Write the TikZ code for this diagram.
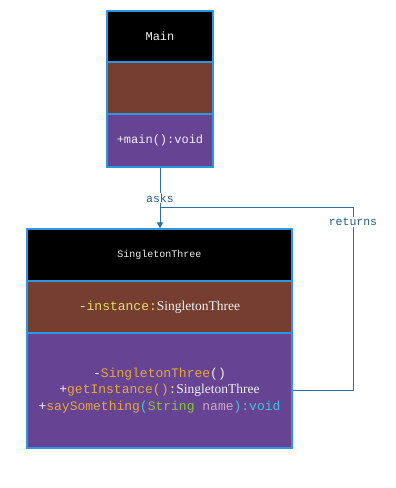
\documentclass[tikz,border=0pt]{standalone}
\usepackage{fontspec}
\setmonofont{Liberation Mono}
\newfontfamily\srf{Liberation Serif}
\usetikzlibrary{arrows.meta}

\definecolor{edge}{RGB}{45,150,225}
\definecolor{brownbox}{RGB}{118,62,48}
\definecolor{purplebox}{RGB}{103,67,148}
\definecolor{conn}{RGB}{46,110,165}
\definecolor{lbltext}{RGB}{30,90,140}
\definecolor{wtxt}{RGB}{240,240,240}
\definecolor{ytxt}{RGB}{232,222,100}
\definecolor{otxt}{RGB}{228,168,60}
\definecolor{ctxt}{RGB}{64,196,226}
\definecolor{gtxt}{RGB}{140,196,64}
\definecolor{mtxt}{RGB}{200,170,200}

\tikzset{
  part/.style={draw=edge, line width=1.2pt, inner sep=0pt, text=wtxt},
  headpart/.style={part, fill=black},
  fieldpart/.style={part, fill=brownbox},
  oppart/.style={part, fill=purplebox},
  link/.style={draw=conn, line width=1pt},
  linklabel/.style={fill=white, text=lbltext, inner sep=1pt,
    font=\ttfamily\fontsize{11.5}{12}\selectfont},
}
\newcommand{\tynm}{{\srf\fontsize{13.5}{14}\selectfont SingletonThree}}

\begin{document}
\begin{tikzpicture}[x=1pt,y=-1pt]
\useasboundingbox (0,0) rectangle (396,488);

% class Main
\node[headpart, minimum width=106pt, minimum height=51pt,
  font=\ttfamily\fontsize{12}{13}\selectfont] (mainH) at (160,36.5) {Main};
\node[fieldpart, minimum width=106pt, minimum height=52pt] (mainF) at (160,88) {};
\node[oppart, minimum width=106pt, minimum height=53pt,
  font=\ttfamily\fontsize{12}{13}\selectfont] (mainO) at (160,140.5) {+main():void};

% class SingletonThree
\node[headpart, minimum width=265pt, minimum height=52pt,
  font=\ttfamily\fontsize{10}{11}\selectfont] (sglH) at (159.5,255) {SingletonThree};
\node[fieldpart, minimum width=265pt, minimum height=52pt,
  font=\ttfamily\fontsize{13}{14}\selectfont] (sglF) at (159.5,307)
  {-\textcolor{ytxt}{instance:}\tynm};
\node[oppart, minimum width=265pt, minimum height=115pt, align=center,
  font=\ttfamily\fontsize{13}{16.7}\selectfont] (sglO) at (159.5,390.5)
  {-\textcolor{otxt}{SingletonThree}()\\
   +\textcolor{otxt}{getInstance()}\textcolor{ytxt}{:}\tynm\\
   +\textcolor{otxt}{saySomething}\textcolor{ctxt}{(}\textcolor{gtxt}{String}
   \textcolor{mtxt}{name}\textcolor{ctxt}{):void}};

% connectors
\coordinate (corner) at (353,207);
\coordinate (join) at (160,207);
\draw[link, -{Triangle[width=6pt,length=6pt]}] (mainO.south) --
  node[linklabel, pos=0.5] (asks) {asks} (mainO.south |- sglH.north);
\draw[link] (sglO.east) -| (corner) -- (join);
\node[linklabel] (ret) at (353,222) {returns};
\end{tikzpicture}
\end{document}
